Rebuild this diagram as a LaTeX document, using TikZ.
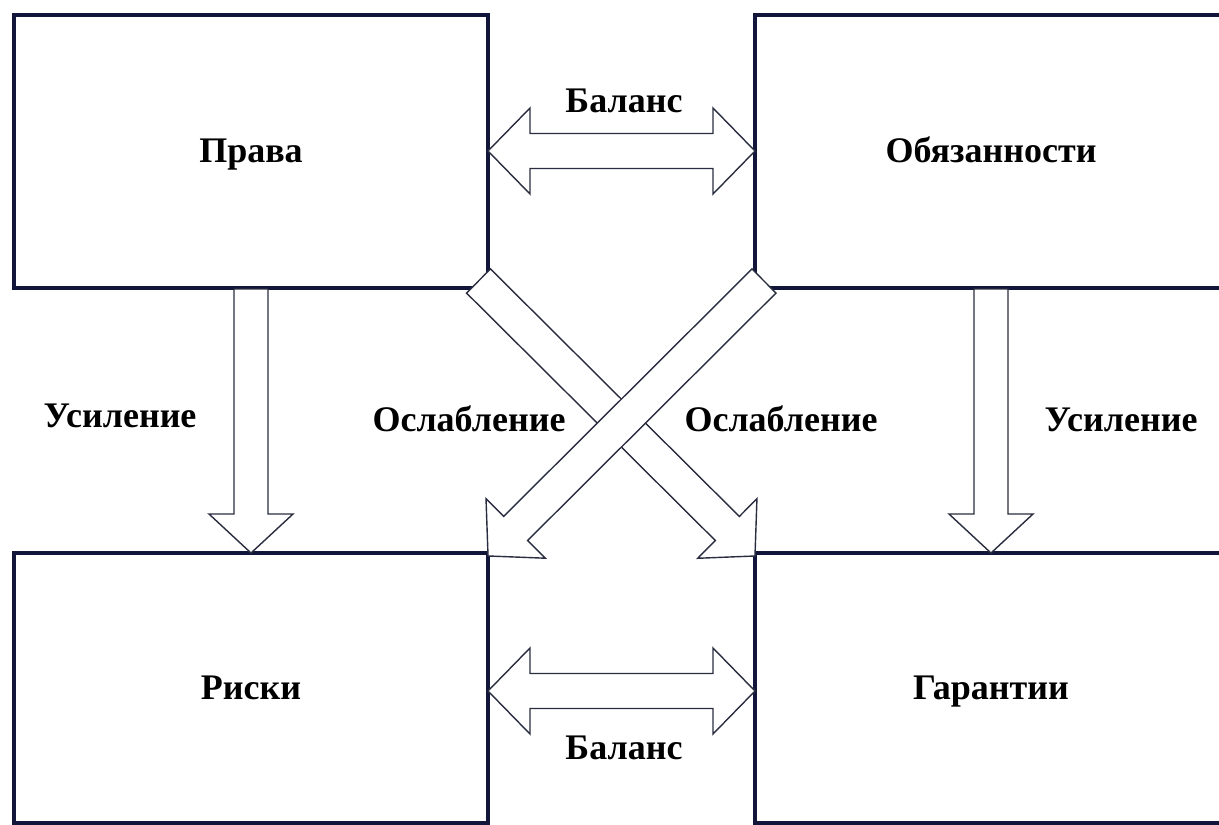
\documentclass[tikz,border=0pt]{standalone}
\usepackage{fontspec}
\setmainfont{Liberation Serif}
\usetikzlibrary{calc}
\definecolor{navy}{HTML}{12163A}
\definecolor{arrline}{HTML}{2A2D40}
\newcommand\lbl{\fontsize{36}{40}\selectfont\bfseries}
\tikzset{
  box/.style={draw=navy, line width=4.8pt, fill=white, inner sep=0pt, outer sep=0pt, font=\lbl,
    text height=28pt, text depth=6pt},
  arr/.style={draw=arrline, line width=1.4pt, fill=white, line join=miter},
  lab/.style={font=\lbl, inner sep=0pt, text height=28pt, text depth=6pt}
}
% single fat arrow from #1 to #2
\newcommand\fatarrow[2]{%
  \filldraw[arr] let \p1=(#1),\p2=(#2),\n1={atan2(\y2-\y1,\x2-\x1)},\n2={veclen(\x2-\x1,\y2-\y1)} in
  [shift={(\p1)},rotate=\n1] (0pt,17pt) -- ({\n2*1pt-39pt},17pt) -- ({\n2*1pt-39pt},42pt) -- ({\n2*1pt},0pt)
  -- ({\n2*1pt-39pt},-42pt) -- ({\n2*1pt-39pt},-17pt) -- (0pt,-17pt) -- cycle;}
% double fat arrow between #1 and #2
\newcommand\fatdarrow[2]{%
  \filldraw[arr] let \p1=(#1),\p2=(#2),\n1={atan2(\y2-\y1,\x2-\x1)},\n2={veclen(\x2-\x1,\y2-\y1)} in
  [shift={(\p1)},rotate=\n1] (0pt,0pt) -- (42pt,43pt) -- (42pt,17.5pt) -- ({\n2*1pt-42pt},17.5pt) -- ({\n2*1pt-42pt},43pt)
  -- ({\n2*1pt},0pt) -- ({\n2*1pt-42pt},-43pt) -- ({\n2*1pt-42pt},-17.5pt) -- (42pt,-17.5pt) -- (42pt,-43pt) -- cycle;}
\begin{document}
\begin{tikzpicture}[x=1pt,y=-1pt]
\useasboundingbox (0,0) rectangle (1219,825);
\clip (0,0) rectangle (1219,825);
\fill[white] (0,0) rectangle (1219,825);
% boxes
\node[box, minimum width=474pt, minimum height=273pt] (pr) at (251,151.5) {Права};
\node[box, minimum width=472pt, minimum height=273pt] (ob) at (991,151.5) {Обязанности};
\node[box, minimum width=474pt, minimum height=270pt] (ri) at (251,688) {Риски};
\node[box, minimum width=472pt, minimum height=270pt] (ga) at (991,688) {Гарантии};
% arrow endpoints
\coordinate (vl1) at (251,289);  \coordinate (vl2) at (251,553);
\coordinate (vr1) at (991,289);  \coordinate (vr2) at (991,553);
\coordinate (bt1) at (488,151);  \coordinate (bt2) at (755,151);
\coordinate (bb1) at (488,691);  \coordinate (bb2) at (755,691);
\coordinate (d11) at (478.5,281); \coordinate (d12) at (755,556);
\coordinate (d21) at (764,281);   \coordinate (d22) at (488,556);
% arrows
\fatarrow{vl1}{vl2}
\fatarrow{vr1}{vr2}
\fatdarrow{bt1}{bt2}
\fatdarrow{bb1}{bb2}
\fatarrow{d11}{d12}
\fatarrow{d21}{d22}
% labels
\node[lab] (bal1) at (624,101) {Баланс};
\node[lab] (bal2) at (624,748) {Баланс};
\node[lab] (us1) at (120,416) {Усиление};
\node[lab] (os1) at (469,420) {Ослабление};
\node[lab] (os2) at (781,420) {Ослабление};
\node[lab] (us2) at (1121,420) {Усиление};
\end{tikzpicture}
\end{document}
